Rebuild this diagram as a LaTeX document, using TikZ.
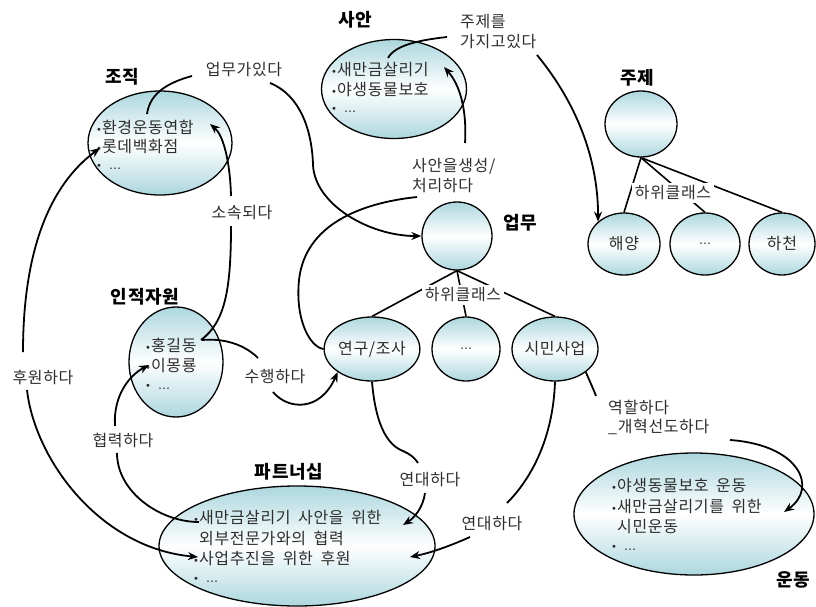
\documentclass[tikz,border=0pt]{standalone}
\usepackage{fontspec}
\setmainfont{Noto Sans CJK KR}[LetterSpace=4,WordSpace=1.8]
\newfontfamily\latf{DejaVu Sans}
\usetikzlibrary{shapes.geometric,arrows.meta}
\definecolor{cy}{RGB}{172,215,222}
\definecolor{txt}{RGB}{45,45,45}
\newcommand\bl{{\latf\fontsize{10}{10}\selectfont •}}
\newcommand\dts{{\latf\fontsize{12}{12}\selectfont …}}
\newcommand\fs{\fontsize{16}{21}\selectfont}
\newcommand\fb{\bfseries\fontsize{18}{18}\selectfont}
\begin{document}
\begin{tikzpicture}[x=1pt,y=-1pt,
  ell/.style={ellipse,draw=black,line width=1.3pt,top color=cy,bottom color=cy,middle color=white,inner sep=0pt,text=txt,font=\fs},
  item/.style={anchor=west,inner sep=0pt,text=txt,font=\fs},
  rel/.style={inner sep=1pt,text=txt,font=\fs},
  rell/.style={anchor=west,inner sep=0pt,text=txt,font=\fs},
  ttl/.style={inner sep=0pt,text=black,font=\fb},
  sub/.style={inner sep=3pt,fill=white,text=txt,font=\fs},
  con/.style={line width=1.8pt},
  arr/.style={-{Stealth[length=10pt,width=8pt]}},
  thin/.style={line width=1.6pt}]
\useasboundingbox (0,0) rectangle (816,607);

% ---------- ellipses ----------
\node[ell,minimum width=144pt,minimum height=104pt] (ejo) at (160,143) {};
\node[ell,minimum width=145pt,minimum height=99pt] (esa) at (394,89) {};
\node[ell,minimum width=72pt,minimum height=66pt] (eju) at (641,124) {};
\node[ell,minimum width=72pt,minimum height=62pt] (ehae) at (624,244) {해양};
\node[ell,minimum width=70pt,minimum height=62pt] (ejd) at (705,244) {\dts};
\node[ell,minimum width=66pt,minimum height=62pt] (eha) at (782,244) {하천};
\node[ell,minimum width=70pt,minimum height=68pt] (eup) at (457,236) {};
\node[ell,minimum width=86pt,minimum height=64pt] (eyeon) at (372,349) {연구/조사};
\node[ell,minimum width=68pt,minimum height=64pt] (eud) at (466,349) {\dts};
\node[ell,minimum width=86pt,minimum height=64pt] (esi) at (555,349) {시민사업};
\node[ell,minimum width=94pt,minimum height=110pt] (ein) at (176,362) {};
\node[ell,minimum width=276pt,minimum height=120pt] (epa) at (297,546) {};
\node[ell,minimum width=240pt,minimum height=122pt] (eun) at (694,514) {};

% ---------- titles ----------
\node[ttl] (tjo) at (122,77) {조직};
\node[ttl] (tsa) at (355,20) {사안};
\node[ttl] (tju) at (637,78) {주제};
\node[ttl] (tup) at (520,223) {업무};
\node[ttl] (tin) at (145,297) {인적자원};
\node[ttl] (tpa) at (289,472) {파트너십};
\node[ttl] (tun) at (793,580) {운동};

% ---------- items ----------
\node[item] (jo1) at (96,127) {\bl 환경운동연합};
\node[item] (jo2) at (96,147) {\bl 롯데백화점};
\node[item] (jo3) at (96,167) {\bl\hspace{7pt}\dts};
\node[item] (sa1) at (331,70) {\bl 새만금살리기};
\node[item] (sa2) at (331,90) {\bl 야생동물보호};
\node[item] (sa3) at (331,110) {\bl\hspace{7pt}\dts};
\node[item] (in1) at (145,345) {\bl 홍길동};
\node[item] (in2) at (145,366) {\bl 이몽룡};
\node[item] (in3) at (145,387) {\bl\hspace{7pt}\dts};
\node[item] (pa1) at (193,518) {\bl 새만금살리기 사안을 위한};
\node[item] (pa2) at (199,538) {외부전문가와의 협력};
\node[item] (pa3) at (193,558) {\bl 사업추진을 위한 후원};
\node[item] (pa4) at (193,580) {\bl\hspace{7pt}\dts};
\node[item] (un1) at (611,486) {\bl 야생동물보호 운동};
\node[item] (un2) at (611,507) {\bl 새만금살리기를 위한};
\node[item] (un3) at (617,527) {시민운동};
\node[item] (un4) at (611,548) {\bl\hspace{7pt}\dts};

% ---------- subclass lines ----------
\draw[thin] (eyeon.north) -- (eup.south);
\draw[thin] (eud.north) -- (eup.south);
\draw[thin] (esi.north) -- (eup.south);
\draw[thin] (ehae.north) -- (eju.south);
\draw[thin] (ejd.north) -- (eju.south);
\draw[thin] (eha.north) -- (eju.south);
\node[sub] (sub1) at (463,295) {하위클래스};
\node[sub] (sub2) at (673,193) {하위클래스};

% ---------- relation labels ----------
\node[rel] (r1) at (244,70) {업무가있다};
\node[rell] (r2a) at (460,22) {주제를};
\node[rell] (r2b) at (460,42) {가지고있다};
\node[rell] (r3a) at (412,166) {사안을생성/};
\node[rell] (r3b) at (412,186) {처리하다};
\node[rel] (r4) at (242,213) {소속되다};
\node[rel] (r5) at (275,377) {수행하다};
\node[rel] (r6) at (43,377) {후원하다};
\node[rel] (r7) at (123,440) {협력하다};
\node[rel] (r8) at (430,480) {연대하다};
\node[rel] (r9) at (492,524) {연대하다};
\node[rell] (r10a) at (608,407) {역할하다};
\node[rell] (r10b) at (608,427) {\_개혁선도하다};

% ---------- connectors ----------
% 업무가있다
\coordinate (c1a) at (147,114);
\coordinate (c1b) at (192,76);
\coordinate (c1c) at (270,83);
\draw[con] (c1a) .. controls (150,92) and (170,82) .. (c1b);
\draw[con,arr] (c1c) .. controls (300,95) and (312,130) .. (313,165) .. controls (315,205) and (370,236) .. (eup.west);
% 주제를 가지고있다
\coordinate (c2a) at (388,58);
\coordinate (c2b) at (447,37);
\coordinate (c2c) at (537,55);
\draw[con] (c2a) .. controls (395,45) and (420,40) .. (c2b);
\draw[con,arr] (c2c) .. controls (570,95) and (598,150) .. (ehae.north west);
% 사안을생성/처리하다
\coordinate (c3a) at (465,143);
\coordinate (c3b) at (444,67);
\coordinate (c3c) at (417,197);
\draw[con,arr] (c3a) .. controls (467,110) and (460,85) .. (c3b);
\draw[con] (c3c) .. controls (360,203) and (305,225) .. (299,280) .. controls (295,320) and (310,347) .. (eyeon.west);
% 소속되다
\coordinate (c4a) at (201,340);
\coordinate (c4b) at (231,226);
\coordinate (c4c) at (231,196);
\coordinate (c4d) at (210,124);
\draw[con] (c4a) .. controls (225,322) and (231,290) .. (c4b);
\draw[con,arr] (c4c) .. controls (230,160) and (223,135) .. (c4d);
% 수행하다
\coordinate (c5a) at (202,340);
\coordinate (c5b) at (258,358);
\coordinate (c5c) at (273,392);
\draw[con] (c5a) .. controls (225,338) and (245,345) .. (c5b);
\draw[con,arr] (c5c) .. controls (288,410) and (320,412) .. (eyeon.south west);
% 후원하다
\coordinate (c6a) at (23,352);
\coordinate (c6b) at (100,148);
\coordinate (c6c) at (27,390);
\coordinate (c6d) at (198,557);
\draw[con,arr] (c6a) .. controls (23,250) and (50,185) .. (c6b);
\draw[con,arr] (c6c) .. controls (35,460) and (100,548) .. (c6d);
% 협력하다
\coordinate (c7a) at (115,426);
\coordinate (c7b) at (149,365);
\coordinate (c7c) at (117,453);
\coordinate (c7d) at (199,522);
\draw[con,arr] (c7a) .. controls (113,395) and (130,375) .. (c7b);
\draw[con] (c7c) .. controls (117,492) and (160,522) .. (c7d);
% 연대하다 1
\coordinate (c8a) at (418,463);
\coordinate (c8b) at (425,493);
\coordinate (c8c) at (403,525);
\draw[con] (eyeon.south) .. controls (376,430) and (390,446) .. (403,451) .. controls (410,454) and (415,458) .. (c8a);
\draw[con,arr] (c8b) .. controls (423,508) and (414,518) .. (c8c);
% 연대하다 2
\coordinate (c9a) at (507,503);
\coordinate (c9b) at (470,537);
\coordinate (c9c) at (410,557);
\draw[con] (esi.south) .. controls (553,440) and (530,480) .. (c9a);
\draw[con,arr] (c9b) .. controls (450,546) and (430,553) .. (c9c);
% 역할하다
\coordinate (c10a) at (596,396);
\coordinate (c10b) at (730,440);
\coordinate (c10c) at (784,512);
\draw[con] (esi.south east) .. controls (590,382) and (593,388) .. (c10a);
\draw[con,arr] (c10b) .. controls (800,445) and (818,488) .. (c10c);
\end{tikzpicture}
\end{document}
